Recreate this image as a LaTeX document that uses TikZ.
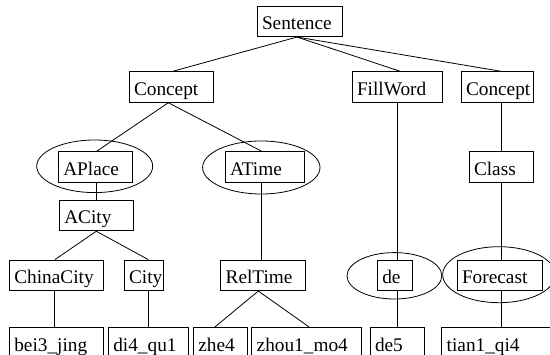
\documentclass[tikz,border=0pt]{standalone}
\usepackage{fontspec}
\setmainfont{Liberation Serif}
\usetikzlibrary{shapes.geometric}
\begin{document}
\begin{tikzpicture}[x=1pt,y=-1pt,
  bx/.style={draw, line width=0.8pt, text width=#1, align=left, inner xsep=5pt,
    inner ysep=0pt, text height=19pt, text depth=2pt, minimum height=30.7pt,
    font=\fontsize{19.3}{22}\selectfont},
  ell/.style={draw, line width=0.8pt, ellipse, inner sep=0pt},
  ln/.style={line width=0.8pt}]
\useasboundingbox (0,0) rectangle (550,355);
\clip (0,0) rectangle (550,355);
% ellipses
\node[ell, minimum width=116pt, minimum height=52.6pt] (eap) at (94.7,166.3) {};
\node[ell, minimum width=117.4pt, minimum height=53pt] (eat) at (261.3,167.5) {};
\node[ell, minimum width=94.8pt, minimum height=46.4pt] (ede) at (394.4,275.8) {};
\node[ell, minimum width=112.6pt, minimum height=56pt] (efc) at (499,274.7) {};
% boxes
\node[bx=75pt] (sent) at (299.5,21.3) {Sentence};
\node[bx=74pt] (c1) at (171,87) {Concept};
\node[bx=80pt] (fill) at (397,87) {FillWord};
\node[bx=62pt] (c2) at (497,87) {Concept};
\node[bx=64pt] (aplace) at (95.3,167) {APlace};
\node[bx=69pt] (atime) at (264.5,167) {ATime};
\node[bx=54pt] (class) at (501,167) {Class};
\node[bx=64pt] (acity) at (96.3,215.5) {ACity};
\node[bx=84pt] (chinacity) at (56.3,275.3) {ChinaCity};
\node[bx=29.3pt] (city) at (143.7,275.3) {City};
\node[bx=74.3pt] (reltime) at (262.8,275.3) {RelTime};
\node[bx=25.4pt] (de) at (395,275.3) {de};
\node[bx=75pt] (forecast) at (499.5,275.3) {Forecast};
\node[bx=84pt] (bei) at (56.3,342.65) {bei3\_jing};
\node[bx=70pt] (di) at (148.3,342.65) {di4\_qu1};
\node[bx=44pt] (zhe) at (220.3,342.65) {zhe4};
\node[bx=100pt] (zhou) at (306.7,342.65) {zhou1\_mo4};
\node[bx=44pt] (defive) at (397,342.65) {de5};
\node[bx=110pt] (tian) at (501.7,342.65) {tian1\_qi4};
% connectors
\draw[ln] ([xshift=-2.5pt]sent.south) -- ([xshift=2pt]c1.north);
\draw[ln] ([xshift=-2.5pt]sent.south) -- ([xshift=3pt]fill.north);
\draw[ln] ([xshift=-2.5pt]sent.south) -- ([xshift=3.7pt]c2.north);
\draw[ln] ([xshift=-2.7pt]c1.south) -- ([xshift=1.4pt]aplace.north);
\draw[ln] ([xshift=-2.7pt]c1.south) -- ([xshift=-2.8pt]atime.north);
\draw[ln] ([xshift=1.4pt]aplace.south) -- ([xshift=0.4pt]acity.north);
\draw[ln] (acity.south) -- ([xshift=-1.3pt]chinacity.north);
\draw[ln] (acity.south) -- ([xshift=4.5pt]city.north);
\draw[ln] ([xshift=-2pt]chinacity.south) -- ([xshift=-2pt]bei.north);
\draw[ln] (di.north |- city.south) -- (di.north);
\draw[ln] ([xshift=-2.8pt]atime.south) -- ([xshift=-1.1pt]reltime.north);
\draw[ln] ([xshift=-4.5pt]reltime.south) -- ([xshift=-5.3pt]zhe.north);
\draw[ln] ([xshift=-4.5pt]reltime.south) -- ([xshift=2.3pt]zhou.north);
\draw[ln] (fill.south) -- (fill.south |- de.north);
\draw[ln] (defive.north |- de.south) -- (defive.north);
\draw[ln] (class.north |- c2.south) -- (class.north);
\draw[ln] (class.south) -- (class.south |- forecast.north);
\draw[ln] (class.south |- forecast.south) -- (class.south |- tian.north);
\end{tikzpicture}
\end{document}
